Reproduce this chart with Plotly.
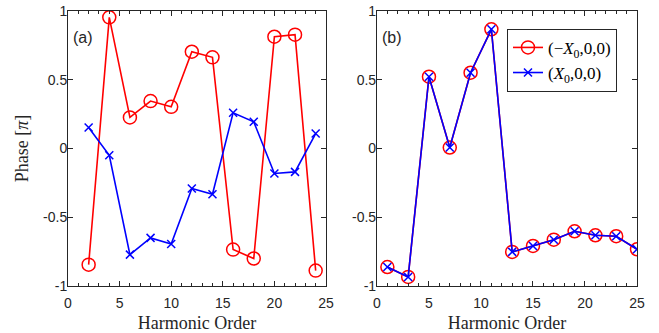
import plotly.graph_objects as go

# Panel (a)
harm_a = [2, 4, 6, 8, 10, 12, 14, 16, 18, 20, 22, 24]
red_a = [-0.845, 0.954, 0.226, 0.345, 0.303, 0.704, 0.663, -0.735, -0.80, 0.813, 0.828, -0.888]
blue_a = [0.153, -0.049, -0.772, -0.650, -0.694, -0.291, -0.333, 0.260, 0.194, -0.182, -0.170, 0.109]

# Panel (b)
harm_b = [1, 3, 5, 7, 9, 11, 13, 15, 17, 19, 21, 23, 25]
red_b = [-0.862, -0.934, 0.522, 0.007, 0.551, 0.867, -0.752, -0.709, -0.663, -0.602, -0.631, -0.638, -0.733]
blue_b = [-0.862, -0.934, 0.522, 0.007, 0.551, 0.867, -0.752, -0.709, -0.663, -0.602, -0.631, -0.638, -0.733]

name_red = "(−<i>X</i><sub>0</sub>,0,0)"
name_blue = "(<i>X</i><sub>0</sub>,0,0)"

x_ticks = [0, 5, 10, 15, 20, 25]
x_ticklabels = ["0", "5", "10", "15", "20", "25"]
y_ticks = [-1, -0.5, 0, 0.5, 1]
y_ticklabels = ["-1", "-0.5", "0", "0.5", "1"]

RED = "#ff0000"
BLUE = "#0000ff"

fig = go.Figure()

def add(x, y, color, symbol, size, name, xa, ya, show):
    fig.add_trace(go.Scatter(
        x=x, y=y, mode="lines+markers", name=name,
        line=dict(color=color, width=1.6),
        marker=dict(symbol=symbol, size=size, color=color,
                    line=dict(color=color, width=1.5)),
        xaxis=xa, yaxis=ya, showlegend=show,
    ))

add(harm_a, red_a, RED, "circle-open", 13, name_red, "x", "y", False)
add(harm_a, blue_a, BLUE, "x-thin-open", 8, name_blue, "x", "y", False)
add(harm_b, red_b, RED, "circle-open", 13, name_red, "x2", "y2", True)
add(harm_b, blue_b, BLUE, "x-thin-open", 8, name_blue, "x2", "y2", True)

axis_color = "#262626"
tickfont = dict(family="Liberation Sans, Arial, sans-serif", size=14, color=axis_color)
titlefont = dict(family="Liberation Serif, Times New Roman, serif", size=18, color=axis_color)

xcommon = dict(range=[0, 25], tickvals=x_ticks, ticktext=x_ticklabels, ticks="inside", ticklen=5,
               showline=True, linecolor=axis_color, linewidth=1, mirror="ticks", showgrid=False,
               zeroline=False, tickfont=tickfont, tickcolor=axis_color, ticklabelstandoff=4,
               automargin=False,
               minor=dict(ticks="inside", dtick=1, ticklen=3, tickcolor=axis_color, showgrid=False),
               title=dict(text="Harmonic Order", font=titlefont, standoff=6))
ycommon = dict(range=[-1, 1], tickvals=y_ticks, ticktext=y_ticklabels, ticks="inside", ticklen=5,
               showline=True, linecolor=axis_color, linewidth=1, mirror="ticks", showgrid=False,
               zeroline=False, tickfont=tickfont, tickcolor=axis_color, automargin=False,
               ticklabelstandoff=-3)

fig.update_layout(
    width=659, height=333,
    margin=dict(l=68, r=22, t=11, b=47),
    paper_bgcolor="white", plot_bgcolor="white",
    xaxis=dict(domain=[0, 0.4534], anchor="y", **xcommon),
    xaxis2=dict(domain=[0.543, 1], anchor="y2", **xcommon),
    yaxis=dict(domain=[0, 1], anchor="x", title=dict(text="Phase [<i>π</i>]", font=titlefont, standoff=9), **ycommon),
    yaxis2=dict(domain=[0, 1], anchor="x2", **ycommon),
    legend=dict(x=0.7715, y=0.935, xanchor="left", yanchor="top",
                bgcolor="white", bordercolor=axis_color, borderwidth=1,
                font=dict(family="Liberation Serif, Times New Roman, serif", size=17, color="black"),
                tracegroupgap=0, itemwidth=30),
    annotations=[
        dict(text="(a)", xref="x", yref="y", x=0.3, y=0.81, xanchor="left", yanchor="middle",
             showarrow=False, font=dict(family="Liberation Sans, Arial, sans-serif", size=16, color=axis_color)),
        dict(text="(b)", xref="x2", yref="y2", x=0.3, y=0.81, xanchor="left", yanchor="middle",
             showarrow=False, font=dict(family="Liberation Sans, Arial, sans-serif", size=16, color=axis_color)),
    ],
)

# remove the default 8px page margin so the figure sits at the window origin
fig.write_html("out.html", config={"displayModeBar": False},
               post_script="document.body.style.margin='0';")
